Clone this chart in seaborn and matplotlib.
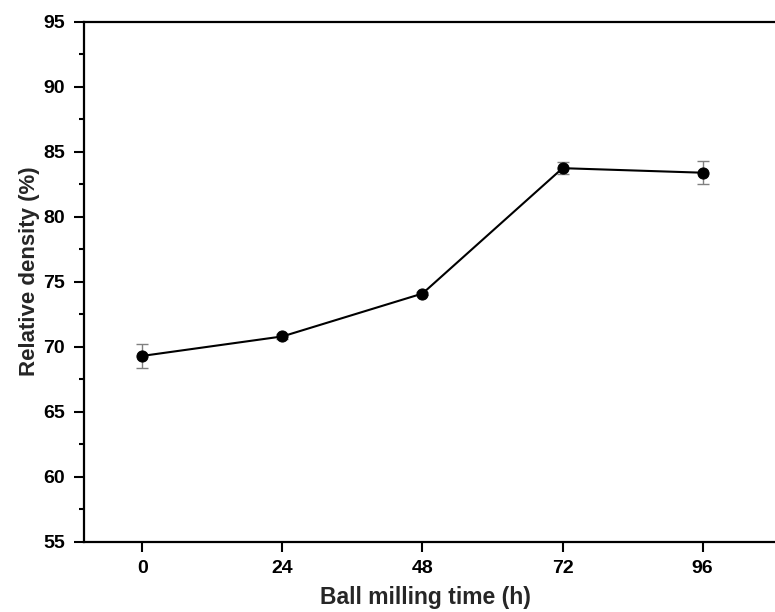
import matplotlib
matplotlib.use("Agg")
import matplotlib.pyplot as plt
import seaborn as sns
import pandas as pd
from matplotlib.ticker import MultipleLocator

time_h = [0, 24, 48, 72, 96]
density = [69.3, 70.8, 74.1, 83.75, 83.4]
density_err = [0.92, 0.2, 0.15, 0.48, 0.9]
x_ticks = [0, 24, 48, 72, 96]

sns.set_theme(style="ticks")
plt.rcParams["font.family"] = ["Liberation Sans", "DejaVu Sans"]
plt.rcParams["font.weight"] = "bold"

df = pd.DataFrame({"time": time_h, "density": density, "err": density_err})

W, H = 775, 612
left_px, right_px, top_px, bot_px = 84, 842.7, 22, 541.7
fig = plt.figure(figsize=(W / 100, H / 100), dpi=100)
ax = fig.add_axes([left_px / W, 1 - bot_px / H, (right_px - left_px) / W, (bot_px - top_px) / H])

ax.errorbar(df["time"], df["density"], yerr=df["err"], fmt="none",
            ecolor="#808080", elinewidth=1.0, capsize=4, capthick=1.0, zorder=2)
sns.lineplot(data=df, x="time", y="density", ax=ax, color="black", linewidth=1.5,
             marker="o", markersize=8, markeredgecolor="black", markerfacecolor="black",
             zorder=3)

ax.set_xlim(-10, 120)
ax.set_ylim(55, 95)
ax.set_xticks(x_ticks)
ax.yaxis.set_major_locator(MultipleLocator(5))
ax.yaxis.set_minor_locator(MultipleLocator(2.5))
ax.tick_params(axis="both", which="major", direction="out", length=7.2, width=1.5,
               labelsize=14, color="black", labelcolor="black")
ax.tick_params(axis="y", which="major", pad=6.5)
ax.tick_params(axis="x", which="major", pad=6)
ax.tick_params(axis="y", which="minor", direction="out", length=3.8, width=1.5, color="black")
for lab in ax.get_xticklabels() + ax.get_yticklabels():
    lab.set_fontweight("bold")
for s in ax.spines.values():
    s.set_linewidth(1.6)
    s.set_color("black")

ax_w = right_px - left_px
ax_h = bot_px - top_px
ax.set_xlabel("Ball milling time (h)", fontsize=16.5, fontweight="bold", va="center")
ax.set_ylabel("Relative density (%)", fontsize=16, fontweight="bold", va="center")
ax.xaxis.set_label_coords((425 - left_px) / ax_w, (bot_px - 597.5) / ax_h)
ax.yaxis.set_label_coords((30 - left_px) / ax_w, (bot_px - 271.5) / ax_h)

fig.savefig("out.png", dpi=100)
